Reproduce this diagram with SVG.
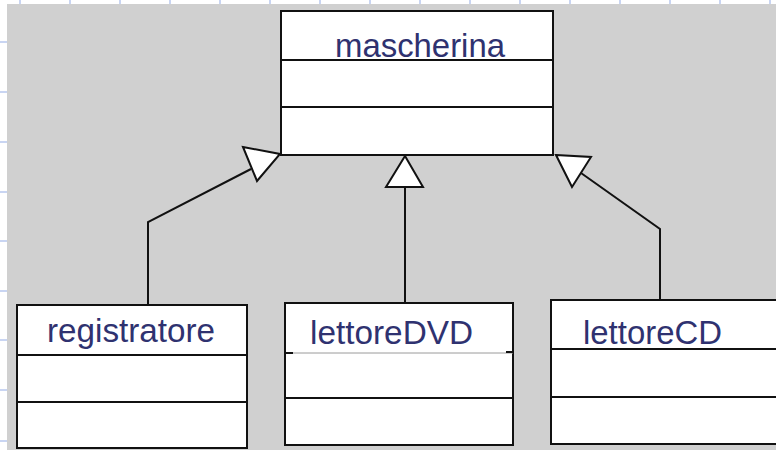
<svg xmlns="http://www.w3.org/2000/svg" width="776" height="450" viewBox="0 0 776 450">
  <defs>
    <style>
      .grid { stroke: #c9d5f2; stroke-width: 2; }
      .box { fill: #ffffff; stroke: #111111; stroke-width: 2; }
      .div { stroke: #111111; stroke-width: 2; fill: none; }
      .conn { stroke: #111111; stroke-width: 2; fill: none; }
      .head { fill: #ffffff; stroke: #111111; stroke-width: 2; stroke-linejoin: miter; }
      .lbl { font-family: "Liberation Sans", Arial, sans-serif; font-size: 33px; fill: #2f3270; }
    </style>
  </defs>
  <rect x="0" y="0" width="776" height="450" fill="#ffffff"/>
  <g id="grid">
    <line class="grid" x1="20" y1="0" x2="20" y2="6"/>
    <line class="grid" x1="70" y1="0" x2="70" y2="6"/>
    <line class="grid" x1="120" y1="0" x2="120" y2="6"/>
    <line class="grid" x1="170" y1="0" x2="170" y2="6"/>
    <line class="grid" x1="220" y1="0" x2="220" y2="6"/>
    <line class="grid" x1="270" y1="0" x2="270" y2="6"/>
    <line class="grid" x1="320" y1="0" x2="320" y2="6"/>
    <line class="grid" x1="370" y1="0" x2="370" y2="6"/>
    <line class="grid" x1="420" y1="0" x2="420" y2="6"/>
    <line class="grid" x1="470" y1="0" x2="470" y2="6"/>
    <line class="grid" x1="520" y1="0" x2="520" y2="6"/>
    <line class="grid" x1="570" y1="0" x2="570" y2="6"/>
    <line class="grid" x1="620" y1="0" x2="620" y2="6"/>
    <line class="grid" x1="670" y1="0" x2="670" y2="6"/>
    <line class="grid" x1="720" y1="0" x2="720" y2="6"/>
    <line class="grid" x1="770" y1="0" x2="770" y2="6"/>
    <line class="grid" x1="0" y1="42" x2="8" y2="42"/>
    <line class="grid" x1="0" y1="92" x2="8" y2="92"/>
    <line class="grid" x1="0" y1="142" x2="8" y2="142"/>
    <line class="grid" x1="0" y1="192" x2="8" y2="192"/>
    <line class="grid" x1="0" y1="241" x2="8" y2="241"/>
    <line class="grid" x1="0" y1="291" x2="8" y2="291"/>
    <line class="grid" x1="0" y1="340" x2="8" y2="340"/>
    <line class="grid" x1="0" y1="390" x2="8" y2="390"/>
    <line class="grid" x1="0" y1="441" x2="8" y2="441"/>
  </g>
  <rect x="7" y="4" width="769" height="446" fill="#d0d0d0"/>

  <g id="connectors">
    <polyline class="conn" points="148,305 148,222 251,169"/>
    <polygon class="head" points="243,147 280,154 257,181"/>
    <line class="conn" x1="405" y1="303" x2="405" y2="187"/>
    <polygon class="head" points="405,156 386,187 423,187"/>
    <polyline class="conn" points="660,300 660,229 581,173"/>
    <polygon class="head" points="556,155 591,157 572,187"/>
  </g>

  <g id="mascherina">
    <rect class="box" x="281" y="11" width="272" height="144"/>
    <line class="div" x1="281" y1="60" x2="553" y2="60"/>
    <line class="div" x1="281" y1="107" x2="553" y2="107"/>
    <text class="lbl" x="335" y="57" textLength="170" lengthAdjust="spacingAndGlyphs">mascherina</text>
  </g>

  <g id="registratore">
    <rect class="box" x="17" y="305" width="230" height="143"/>
    <line class="div" x1="17" y1="355" x2="247" y2="355"/>
    <line class="div" x1="17" y1="402" x2="247" y2="402"/>
    <text class="lbl" x="47" y="342" textLength="168" lengthAdjust="spacingAndGlyphs">registratore</text>
  </g>

  <g id="lettoreDVD">
    <rect class="box" x="285" y="303" width="228" height="142"/>
    <line x1="285" y1="353" x2="513" y2="353" stroke="#9a9a9a" stroke-width="1"/>
    <line class="div" x1="285" y1="353" x2="293" y2="353"/>
    <line class="div" x1="506" y1="352" x2="513" y2="352"/>
    <line class="div" x1="285" y1="398" x2="513" y2="398"/>
    <text class="lbl" x="310" y="344" textLength="163" lengthAdjust="spacingAndGlyphs">lettoreDVD</text>
  </g>

  <g id="lettoreCD">
    <rect class="box" x="551" y="300" width="240" height="144"/>
    <line class="div" x1="551" y1="349" x2="776" y2="349"/>
    <line class="div" x1="551" y1="397" x2="776" y2="397"/>
    <text class="lbl" x="583" y="344" textLength="139" lengthAdjust="spacingAndGlyphs">lettoreCD</text>
  </g>
</svg>
